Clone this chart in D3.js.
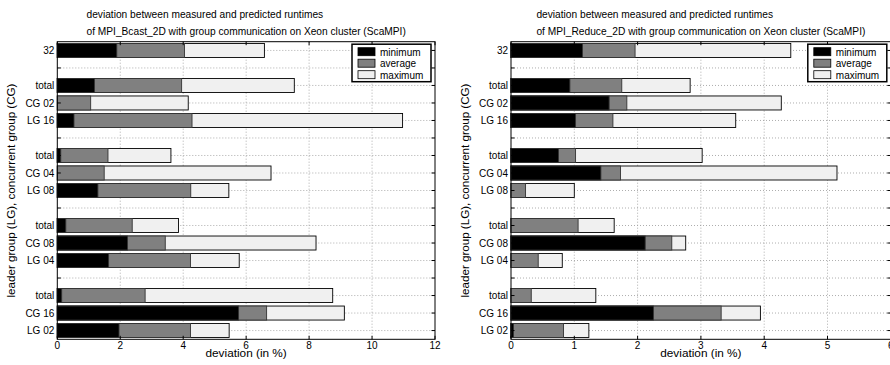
<!DOCTYPE html>
<html>
<head>
<meta charset="utf-8">
<script src="https://cdn.jsdelivr.net/npm/d3@7"></script>
<style>
  body { margin: 0; background: #fff; }
  svg text { font-family: "Liberation Sans", Arial, sans-serif; fill: #000; }
</style>
</head>
<body>
<script>
const WIDTH = 890;
const HEIGHT = 365;

// row labels, top to bottom ("" = empty spacer row)
const rowLabels = ["32", "", "total", "CG 02", "LG 16", "", "total", "CG 04", "LG 08",
                   "", "total", "CG 08", "LG 04", "", "total", "CG 16", "LG 02"];

// MPI_Bcast_2D deviations (in %)
const bcastMin = [1.89, null, 1.18, 0, 0.53, null, 0.11, 0, 1.29, null, 0.27, 2.23, 1.63, null, 0.14, 5.76, 1.96];
const bcastAvg = [4.04, null, 3.95, 1.06, 4.28, null, 1.61, 1.49, 4.24, null, 2.38, 3.43, 4.23, null, 2.79, 6.65, 4.23];
const bcastMax = [6.58, null, 7.53, 4.16, 10.97, null, 3.61, 6.79, 5.45, null, 3.85, 8.22, 5.78, null, 8.75, 9.12, 5.46];

// MPI_Reduce_2D deviations (in %)
const reduceMin = [1.13, null, 0.93, 1.55, 1.02, null, 0.75, 1.42, 0, null, 0, 2.12, 0, null, 0, 2.25, 0.04];
const reduceAvg = [1.96, null, 1.75, 1.83, 1.61, null, 1.02, 1.73, 0.23, null, 1.06, 2.54, 0.43, null, 0.32, 3.32, 0.83];
const reduceMax = [4.42, null, 2.83, 4.27, 3.55, null, 3.02, 5.15, 1.00, null, 1.63, 2.76, 0.81, null, 1.34, 3.94, 1.23];

const bcastTicks = [0, 2, 4, 6, 8, 10, 12];
const reduceTicks = [0, 1, 2, 3, 4, 5, 6];

const seriesNames = ["minimum", "average", "maximum"];
const seriesColors = ["#000000", "#808080", "#f0f0f0"];

const svg = d3.select("body").append("svg")
    .attr("width", WIDTH)
    .attr("height", HEIGHT);

// draw one bar panel
function drawPanel(p) {
    const g = svg.append("g");
    const top = 41.7, bottom = 339.3;

    const x = d3.scaleLinear().domain([0, p.ticks[p.ticks.length - 1]]).range([p.left, p.right]);
    const y = d3.scaleBand()
        .domain(rowLabels.map((d, i) => i))
        .range([top, bottom])
        .paddingInner(0.2)
        .paddingOuter(0.1);
    const yc = i => y(i) + y.bandwidth() / 2;

    // dotted grid
    g.selectAll(".gx").data(p.ticks.slice(1, -1)).enter().append("line")
        .attr("x1", d => x(d)).attr("x2", d => x(d))
        .attr("y1", top).attr("y2", bottom)
        .attr("stroke", "#999").attr("stroke-width", 0.8)
        .attr("stroke-dasharray", "1,2");
    g.selectAll(".gy").data(rowLabels.map((d, i) => i)).enter().append("line")
        .attr("x1", p.left).attr("x2", p.right)
        .attr("y1", d => yc(d)).attr("y2", d => yc(d))
        .attr("stroke", "#999").attr("stroke-width", 0.8)
        .attr("stroke-dasharray", "1,2");

    // bars: maximum first, then average, then minimum on top
    [[p.max, 2], [p.avg, 1], [p.min, 0]].forEach(([vals, k]) => {
        g.selectAll(".bar" + k)
            .data(vals.map((v, i) => ({ v: v, i: i })).filter(d => d.v))
            .enter().append("rect")
            .attr("x", x(0))
            .attr("y", d => y(d.i))
            .attr("width", d => x(d.v) - x(0))
            .attr("height", y.bandwidth())
            .attr("fill", seriesColors[k])
            .attr("stroke", k === 2 ? "#000" : "#333")
            .attr("stroke-width", 0.9);
    });

    // box
    g.append("rect")
        .attr("x", p.left).attr("y", top)
        .attr("width", p.right - p.left).attr("height", bottom - top)
        .attr("fill", "none").attr("stroke", "#000").attr("stroke-width", 1);

    // inward ticks
    const tl = 3.5;
    p.ticks.forEach(t => {
        g.append("line").attr("x1", x(t)).attr("x2", x(t)).attr("y1", bottom).attr("y2", bottom - tl).attr("stroke", "#000");
        g.append("line").attr("x1", x(t)).attr("x2", x(t)).attr("y1", top).attr("y2", top + tl).attr("stroke", "#000");
    });
    rowLabels.forEach((d, i) => {
        g.append("line").attr("x1", p.left).attr("x2", p.left + tl).attr("y1", yc(i)).attr("y2", yc(i)).attr("stroke", "#000");
        g.append("line").attr("x1", p.right).attr("x2", p.right - tl).attr("y1", yc(i)).attr("y2", yc(i)).attr("stroke", "#000");
    });

    // tick labels
    g.selectAll(".xl").data(p.ticks).enter().append("text")
        .attr("x", d => x(d)).attr("y", bottom + 9.2)
        .attr("text-anchor", "middle").attr("font-size", 10)
        .text(d => d);
    g.selectAll(".yl").data(rowLabels.map((d, i) => ({ d: d, i: i })).filter(d => d.d)).enter().append("text")
        .attr("x", p.left - 3).attr("y", d => yc(d.i) + 3.6)
        .attr("text-anchor", "end").attr("font-size", 10)
        .text(d => d.d);

    // axis labels
    g.append("text")
        .attr("x", (p.left + p.right) / 2).attr("y", 356.5)
        .attr("text-anchor", "middle").attr("font-size", 11.8)
        .text("deviation (in %)");
    g.append("text")
        .attr("transform", "translate(" + (p.left - 42) + "," + ((top + bottom) / 2) + ") rotate(-90)")
        .attr("text-anchor", "middle").attr("font-size", 11.6)
        .text("leader group (LG), concurrent group (CG)");

    // title: second line centred, first line aligned to its left edge
    const t2 = g.append("text")
        .attr("x", (p.left + p.right) / 2).attr("y", 34.5)
        .attr("text-anchor", "middle").attr("font-size", 10.2)
        .text(p.title[1]);
    const bb = t2.node().getBBox();
    g.append("text")
        .attr("x", bb.x).attr("y", 17.7)
        .attr("font-size", 10.2)
        .text(p.title[0]);

    // legend
    const lw = 79, lh = 37.5;
    const lx = p.right - 4 - lw, ly = top + 2.5;
    g.append("rect")
        .attr("x", lx).attr("y", ly).attr("width", lw).attr("height", lh)
        .attr("fill", "#fff").attr("stroke", "#000").attr("stroke-width", 1.5);
    seriesNames.forEach((name, k) => {
        const ry = ly + 3.5 + k * 11.5;
        g.append("rect")
            .attr("x", lx + 6).attr("y", ry).attr("width", 17).attr("height", 8)
            .attr("fill", seriesColors[k]).attr("stroke", "#000").attr("stroke-width", 0.8);
        g.append("text")
            .attr("x", lx + 28).attr("y", ry + 7.8)
            .attr("font-size", 10)
            .text(name);
    });
}

drawPanel({
    left: 57.3, right: 435,
    ticks: bcastTicks,
    min: bcastMin, avg: bcastAvg, max: bcastMax,
    title: ["deviation between measured and predicted runtimes",
            "of MPI_Bcast_2D with group communication on Xeon cluster (ScaMPI)"]
});

drawPanel({
    left: 511, right: 890.8,
    ticks: reduceTicks,
    min: reduceMin, avg: reduceAvg, max: reduceMax,
    title: ["deviation between measured and predicted runtimes",
            "of MPI_Reduce_2D with group communication on Xeon cluster (ScaMPI)"]
});
</script>
</body>
</html>
